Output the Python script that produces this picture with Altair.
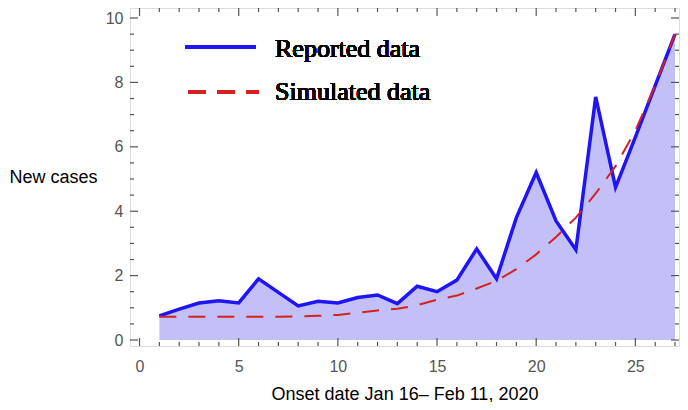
import altair as alt
import pandas as pd

days = list(range(1, 28))
reported = [0.75, 0.96, 1.15, 1.22, 1.15, 1.9, 1.48, 1.06, 1.2, 1.15, 1.32, 1.4, 1.13,
            1.67, 1.5, 1.86, 2.83, 1.9, 3.8, 5.2, 3.7, 2.8, 7.55, 4.74, 6.3, 7.9, 9.5]
simulated = [0.72, 0.72, 0.72, 0.72, 0.72, 0.72, 0.72, 0.73, 0.75, 0.78, 0.85, 0.92, 0.97,
             1.08, 1.25, 1.38, 1.6, 1.84, 2.2, 2.66, 3.2, 3.8, 4.55, 5.4, 6.5, 7.9, 9.5]
series_names = ["Reported data", "Simulated data"]
x_major = [0, 5, 10, 15, 20, 25]
x_minor = [v for v in range(0, 28) if v % 5 != 0]
y_major = [0, 2, 4, 6, 8, 10]
y_minor = [v / 2 for v in range(0, 21) if v % 4 != 0]
x_title = "Onset date Jan 16\u2013 Feb 11, 2020"
y_title = "New cases"

W, H = 549, 338
XDOM = [-0.48, 27.2]
YDOM = [-0.186, 10.311]
FRAME = "#555555"
LABEL = "#555555"

df = pd.DataFrame({"day": days, "reported": reported, "simulated": simulated})

xs = alt.Scale(domain=XDOM, nice=False, zero=False)
ys = alt.Scale(domain=YDOM, nice=False, zero=False)

x_axis = alt.Axis(values=x_major, ticks=False, domain=False, grid=False,
                  labelFontSize=16, labelFont="Liberation Sans", labelColor=LABEL,
                  labelPadding=12, title=x_title, titleFont="Liberation Sans",
                  titleFontSize=18, titleFontWeight="normal", titleColor="black",
                  titleX=W / 2, titleY=53, titleBaseline="alphabetic", titleAlign="center")
y_axis = alt.Axis(values=y_major, ticks=False, domain=False, grid=False,
                  labelFontSize=16, labelFont="Liberation Sans", labelColor=LABEL,
                  labelPadding=7, title=y_title, titleFont="Liberation Sans",
                  titleFontSize=18, titleFontWeight="normal", titleColor="black",
                  titleAngle=0, titleX=-121, titleY=174, titleAlign="left",
                  titleBaseline="alphabetic")

area = alt.Chart(df).mark_area(color="#c3c0f7", opacity=1).encode(
    x=alt.X("day:Q", scale=xs, axis=x_axis),
    y=alt.Y("reported:Q", scale=ys, axis=y_axis),
    y2=alt.datum(0),
)
line_rep = alt.Chart(df).mark_line(color="#1f14f5", strokeWidth=3.5).encode(
    x=alt.X("day:Q", scale=xs), y=alt.Y("reported:Q", scale=ys))
line_sim = alt.Chart(df).mark_line(color="#d42222", strokeWidth=2, strokeDash=[17, 12]).encode(
    x=alt.X("day:Q", scale=xs), y=alt.Y("simulated:Q", scale=ys))


def xticks(vals, length):
    d = pd.DataFrame({"v": vals})
    b = alt.Chart(d).mark_rule(color=FRAME, strokeWidth=1.2).encode(
        x=alt.X("v:Q", scale=xs), y=alt.value(H), y2=alt.value(H - length))
    t = alt.Chart(d).mark_rule(color=FRAME, strokeWidth=1.2).encode(
        x=alt.X("v:Q", scale=xs), y=alt.value(0), y2=alt.value(length))
    return [b, t]


def yticks(vals, length):
    d = pd.DataFrame({"v": vals})
    l = alt.Chart(d).mark_rule(color=FRAME, strokeWidth=1.2).encode(
        y=alt.Y("v:Q", scale=ys), x=alt.value(0), x2=alt.value(length))
    r = alt.Chart(d).mark_rule(color=FRAME, strokeWidth=1.2).encode(
        y=alt.Y("v:Q", scale=ys), x=alt.value(W), x2=alt.value(W - length))
    return [l, r]


ticks = xticks(x_major, 8) + xticks(x_minor, 4) + yticks(y_major, 8) + yticks(y_minor, 4)

leg_rep_line = alt.Chart(df).mark_rule(color="#1f14f5", strokeWidth=3.5).encode(
    x=alt.value(55), x2=alt.value(126), y=alt.value(39))
leg_sim_line = alt.Chart(df).mark_rule(color="#d42222", strokeWidth=2.5, strokeDash=[18, 11]).encode(
    x=alt.value(58), x2=alt.value(129), y=alt.value(84))
leg_rep_text = alt.Chart(df).mark_text(font="Liberation Serif", fontSize=26, align="left",
                                       baseline="alphabetic", color="black").encode(
    x=alt.value(145), y=alt.value(49), text=alt.value(series_names[0]))
leg_sim_text = alt.Chart(df).mark_text(font="Liberation Serif", fontSize=26, align="left",
                                       baseline="alphabetic", color="black").encode(
    x=alt.value(145), y=alt.value(92), text=alt.value(series_names[1]))

chart = alt.layer(area, line_rep, line_sim, *ticks,
                  leg_rep_line, leg_sim_line, leg_rep_text, leg_sim_text).properties(
    width=W, height=H,
    autosize=alt.AutoSizeParams(type="none"),
    padding={"left": 122, "top": 0, "right": 1, "bottom": 56},
).configure_view(stroke=FRAME, strokeWidth=1.5).configure(background="white")

chart.save("out.html", embed_options={"renderer": "svg", "actions": False})
